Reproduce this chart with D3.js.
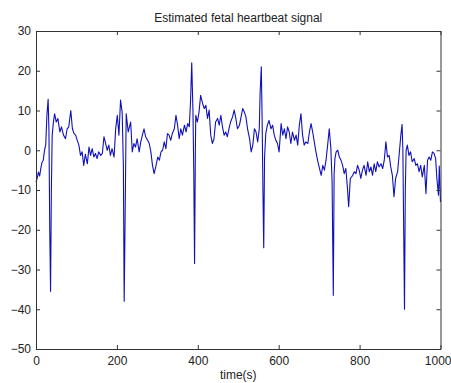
<!DOCTYPE html>
<html>
<head>
<meta charset="utf-8">
<script src="https://cdn.jsdelivr.net/npm/d3@7"></script>
<style>
  html, body { margin: 0; padding: 0; background: #fff; }
  svg { display: block; }
  text { font-family: "Liberation Sans", Arial, sans-serif; }
</style>
</head>
<body>
<div id="chart"></div>
<script>
// data
const title = 'Estimated fetal heartbeat signal';
const xLabel = 'time(s)';
const xTicks = [0, 200, 400, 600, 800, 1000];
const yTicks = [-50, -40, -30, -20, -10, 0, 10, 20, 30];

const times = [
  0, 3, 6, 9, 12, 15, 18, 21, 24, 27, 30, 32, 34, 36, 38, 40, 43, 46, 50, 54,
  59, 63, 68, 73, 77, 81, 86, 90, 94, 98, 102, 106, 110, 114, 118, 122, 127, 131, 135, 139,
  143, 147, 151, 155, 160, 164, 168, 172, 176, 180, 184, 188, 193, 197, 201, 205, 209, 213, 216, 218,
  220, 223, 228, 234, 238, 242, 246, 250, 255, 259, 263, 267, 271, 276, 280, 284, 288, 292, 296, 301,
  305, 309, 313, 317, 321, 325, 329, 333, 337, 342, 346, 350, 354, 358, 362, 367, 371, 375, 379, 382,
  385, 388, 390, 392, 394, 395, 399, 403, 407, 412, 416, 420, 424, 428, 432, 436, 440, 444, 449, 453,
  457, 461, 465, 469, 473, 477, 481, 486, 490, 494, 498, 503, 507, 511, 515, 519, 523, 528, 532, 536,
  540, 544, 548, 552, 554, 557, 559, 561, 563, 565, 568, 572, 576, 581, 585, 589, 593, 597, 601, 606,
  610, 614, 618, 622, 626, 630, 634, 639, 643, 647, 651, 655, 659, 663, 667, 672, 676, 680, 684, 688,
  692, 697, 701, 705, 709, 713, 717, 721, 725, 729, 732, 735, 737, 739, 742, 746, 750, 754, 758, 762,
  766, 770, 773, 777, 783, 787, 791, 795, 799, 803, 807, 811, 816, 820, 824, 828, 832, 836, 840, 844,
  848, 853, 857, 861, 865, 869, 873, 877, 881, 885, 889, 894, 898, 902, 905, 907, 909, 911, 913, 915,
  918, 922, 926, 930, 935, 939, 943, 947, 951, 955, 960, 964, 968, 972, 976, 980, 984, 988, 991, 993,
  995, 997, 1000
];

const signal = [
  -8, -7, -5.5, -6.5, -4.5, -3, -2.5, 0, 1.3, 8.8, 12.8, 5, -20, -35.5, -10, 3.8, 7, 9.2, 7.1, 8,
  4.6, 5.9, 3.8, 2.9, 5.4, 5.9, 10, 5.4, 4.2, 3.8, 2.5, 1.3, -1.3, -0.4, -3.8, -1, -3.4, 0.8, -1.3, 0.4,
  -1.7, -0.8, -2.1, -0.4, -1.3, -0.8, 3.4, 1.7, 0, 1.3, -1.3, 0.4, -1.7, 5.4, 8.8, 3.8, 12.6, 9.6, -3.8, -38,
  -20, 9.2, 4.6, 7.1, -0.4, 1.7, 0.8, 2.9, -0.4, 2.1, 3.8, 5.4, 3.4, 2.5, 1.7, -0.4, -3.8, -5.9, -4.2, -1.7,
  -2.5, -0.4, 0, 2.1, 0.4, 4.2, 3.8, 2.5, 4.2, 5.4, 8.8, 6.3, 2.9, 5.4, 3.8, 6.3, 4.6, 6.7, 5.9, 12.2,
  22, 10, -5, -28.5, 0, 8.8, 7.1, 9.6, 13.8, 11.7, 10.5, 11.3, 8, 10.1, 3.8, 1.7, 2.9, 7.1, 8, 6.3,
  8.8, 5.9, 3.8, 4.6, 3.4, 5.4, 7.1, 8.4, 10.1, 8, 5.4, 6.3, 8.4, 10.5, 9.6, 8.4, 5.4, 2.9, -0.4, 1.3,
  5.4, 4.6, 2.1, 5.4, 14.3, 21, 8, -10, -24.5, -2, 4.2, 6.3, 7.5, 5.4, 6.3, 3.8, 2.5, 1.7, -0.4, 6.7,
  3.8, 5.4, 2.9, 5.9, 4.6, 1.7, 4.6, 2.5, 3.8, 1.3, 6.3, 9.2, 3.8, 1.3, 2.1, 1.7, 4.6, 6.7, 4.6, 2.1,
  -0.4, -2.9, -4.6, -6.3, -3.8, -5, -2.5, 1.3, 5.4, 0.4, -8, -36.5, -6, -2.1, -0.4, 0, -1.7, -2.5, -3.8, -5.9,
  -4.6, -9.6, -14.2, -7.1, -6.3, -5.4, -5.9, -3.8, -5, -7.1, -5, -3.8, -6.3, -2.9, -5.4, -4.2, -6.3, -3.4, -5.4, -2.9,
  -4.2, -3.4, -4.6, -2.5, 2.1, -1.7, -1.3, -4.2, -6.3, -11.7, -7.1, -5.4, -0.8, 3.8, 6.5, 0, -20, -40, -10, 0,
  1.3, -1.3, -0.4, -2.9, -2.1, -3.8, -3.4, -5.4, -3.8, -6.7, -3.8, -10.9, -2.5, -1.7, -2.5, -0.4, -0.8, -2.1, -7.1, -9.2,
  -11.3, -4, -13
];

const width = 451, height = 383;
const margin = { top: 31, right: 10.5, bottom: 34, left: 36 };
const fontSize = '12px';

const svg = d3.select('#chart').append('svg')
  .attr('width', width)
  .attr('height', height);

const x = d3.scaleLinear().domain([0, 1000]).range([margin.left, width - margin.right]);
const y = d3.scaleLinear().domain([-50, 30]).range([height - margin.bottom, margin.top]);

// signal
const line = d3.line()
  .x((d, i) => x(times[i]))
  .y(d => y(d));

svg.append('path')
  .datum(signal)
  .attr('fill', 'none')
  .attr('stroke', '#1010bb')
  .attr('stroke-width', 1.1)
  .attr('stroke-linejoin', 'round')
  .attr('d', line);

// box with inward ticks, matlab style
function styleAxis(g) {
  g.selectAll('.domain').attr('stroke', '#333');
  g.selectAll('.tick line').attr('stroke', '#333');
  g.selectAll('.tick text').attr('fill', '#222').style('font-size', fontSize)
    .style('font-family', '"Liberation Sans", Arial, sans-serif');
}

const bottomAxis = svg.append('g')
  .attr('transform', 'translate(0,' + y(-50) + ')')
  .call(d3.axisBottom(x).tickValues(xTicks).tickFormat(d3.format('d'))
    .tickSizeInner(-4).tickSizeOuter(0).tickPadding(7))
  .call(styleAxis);

// last label sits at the window edge; keep it whole
bottomAxis.selectAll('.tick text')
  .filter(d => d === 1000)
  .attr('text-anchor', 'end')
  .attr('x', width - x(1000));

svg.append('g')
  .attr('transform', 'translate(0,' + y(30) + ')')
  .call(d3.axisTop(x).tickValues(xTicks).tickSizeInner(-4).tickSizeOuter(0).tickFormat(''))
  .call(styleAxis);

svg.append('g')
  .attr('transform', 'translate(' + x(0) + ',0)')
  .call(d3.axisLeft(y).tickValues(yTicks).tickSizeInner(-4).tickSizeOuter(0).tickPadding(5))
  .call(styleAxis);

svg.append('g')
  .attr('transform', 'translate(' + x(1000) + ',0)')
  .call(d3.axisRight(y).tickValues(yTicks).tickSizeInner(-4).tickSizeOuter(0).tickFormat(''))
  .call(styleAxis);

// labels
svg.append('text')
  .attr('x', (x(0) + x(1000)) / 2)
  .attr('y', 22)
  .attr('text-anchor', 'middle')
  .style('font-size', fontSize)
  .attr('fill', '#222')
  .text(title);

svg.append('text')
  .attr('x', (x(0) + x(1000)) / 2)
  .attr('y', 379)
  .attr('text-anchor', 'middle')
  .style('font-size', fontSize)
  .attr('fill', '#222')
  .text(xLabel);
</script>
</body>
</html>
